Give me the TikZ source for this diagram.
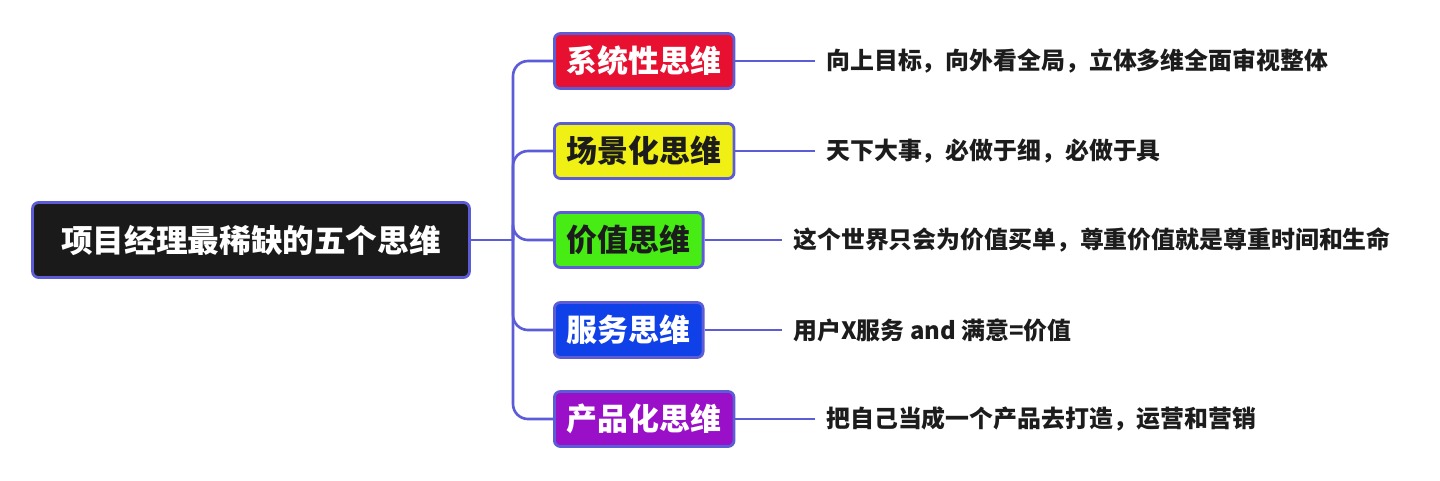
\documentclass[tikz,border=0pt]{standalone}
\usepackage{fontspec}
\setmainfont{Noto Sans CJK SC}
\usepackage{tikz}
\usetikzlibrary{positioning,calc}

\definecolor{linecol}{RGB}{92,92,214}
\definecolor{rootfill}{RGB}{26,26,26}
\definecolor{redfill}{RGB}{232,16,48}
\definecolor{yellowfill}{RGB}{240,240,20}
\definecolor{greenfill}{RGB}{70,236,20}
\definecolor{bluefill}{RGB}{16,64,232}
\definecolor{purplefill}{RGB}{154,16,200}
\definecolor{textcol}{RGB}{28,28,28}

\begin{document}
\begin{tikzpicture}[
    x=0.02cm,
    y=-0.02cm,
    root/.style={
        draw=linecol,
        line width=1.6pt,
        rounded corners=1.2mm,
        fill=rootfill,
        text=white,
        minimum width=8.74cm,
        minimum height=1.5cm,
        font=\fontsize{18}{20}\selectfont\bfseries
    },
    branch/.style={
        draw=linecol,
        line width=1.6pt,
        rounded corners=1.2mm,
        minimum height=1.1cm,
        inner xsep=0.25cm,
        anchor=west,
        font=\fontsize{17.6}{20}\selectfont\bfseries
    },
    leaf/.style={
        anchor=west,
        inner sep=0pt,
        text=textcol,
        font=\fontsize{13.6}{16}\selectfont\bfseries
    },
    link/.style={draw=linecol, line width=1.5pt}
]
\useasboundingbox (0,0) rectangle (1440,480);

% root and trunk
\node[root] (top) at (251,240) {项目经理最稀缺的五个思维};
\coordinate (trunk) at (513,240);

% five thinking modes
\node[branch, fill=redfill, text=white] (sys) at (553,61) {系统性思维};
\node[branch, fill=yellowfill, text=textcol] (scene) at (553,151) {场景化思维};
\node[branch, fill=greenfill, text=textcol] (value) at (553,240) {价值思维};
\node[branch, fill=bluefill, text=white] (serve) at (553,330) {服务思维};
\node[branch, fill=purplefill, text=white] (prod) at (553,419) {产品化思维};

% descriptions
\node[leaf] (sysd) at (826,61) {向上目标，向外看全局，立体多维全面审视整体};
\node[leaf] (scened) at (826,151) {天下大事，必做于细，必做于具};
\node[leaf] (valued) at (793,240) {这个世界只会为价值买单，尊重价值就是尊重时间和生命};
\node[leaf] (served) at (793,330) {用户X服务 and 满意=价值};
\node[leaf] (prodd) at (826,419) {把自己当成一个产品去打造，运营和营销};

\draw[link] (top.east) -- (trunk);
\foreach \n in {sys,scene,value,serve,prod}
    \draw[link, rounded corners=3mm] (trunk) |- (\n.west);
\foreach \n in {sys,scene,value,serve,prod}
    \draw[link] (\n.east) -- ([xshift=-0.22cm]\n d.west);
\end{tikzpicture}
\end{document}
